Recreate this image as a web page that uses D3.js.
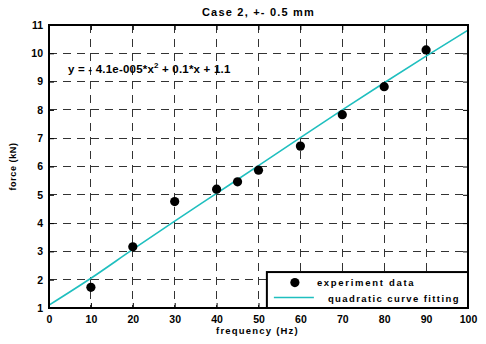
<!DOCTYPE html>
<meta charset="utf-8">
<style>
body { margin: 0; background: #fff; }
.chart text { font-family: "Liberation Sans", Arial, sans-serif; font-weight: bold; fill: #000; }
.chart .grid line { stroke: #333; stroke-width: 1; stroke-dasharray: 8,6; shape-rendering: crispEdges; }
.chart .frame { fill: none; stroke: #000; stroke-width: 2; shape-rendering: crispEdges; }
.chart .fit { fill: none; stroke: #1fbfbf; stroke-width: 1.6; }
</style>
<body>
<svg class="chart js-chart"></svg>

<script src="https://cdn.jsdelivr.net/npm/d3@7"></script>
<script>
"use strict";

var freq = [10, 20, 30, 40, 45, 50, 60, 70, 80, 90];
var force = [1.73, 3.16, 4.76, 5.2, 5.46, 5.87, 6.72, 7.83, 8.82, 10.12];

var fitX = [0, 10, 20, 30, 40, 50, 60, 70, 80, 90, 100];
var fitY = [1.1, 2.05, 3.07, 4.07, 5.05, 6.03, 7.02, 8.0, 8.96, 9.9, 10.82];

var xTicks = [0, 10, 20, 30, 40, 50, 60, 70, 80, 90, 100];
var yTicks = [1, 2, 3, 4, 5, 6, 7, 8, 9, 10, 11];

var margin = { top: 25, right: 18, bottom: 36, left: 49 },
    containerWidth = 486,
    containerHeight = 344,
    width = containerWidth - margin.left - margin.right,
    height = containerHeight - margin.top - margin.bottom;

var svg = d3.select(".js-chart")
    .attr("width", containerWidth)
    .attr("height", containerHeight);

var g = svg.append("g")
    .attr("transform", "translate(" + margin.left + "," + margin.top + ")");

var x = d3.scaleLinear().domain([0, 100]).range([0, width]);
var y = d3.scaleLinear().domain([1, 11]).range([height, 0]);

// dashed grid
var grid = g.append("g").attr("class", "grid");
grid.selectAll(".vx").data(xTicks.slice(1, -1)).enter().append("line")
    .attr("x1", x).attr("x2", x).attr("y1", 0).attr("y2", height);
grid.selectAll(".hy").data(yTicks.slice(1, -1)).enter().append("line")
    .attr("y1", y).attr("y2", y).attr("x1", 0).attr("x2", width);

// axes with inward ticks on all four sides
function styleAxis(sel) {
    sel.select(".domain").remove();
    sel.selectAll("line").attr("stroke", "#000").attr("stroke-width", 1);
    sel.selectAll("text").style("font-size", "10.5px");
}

g.append("g").attr("transform", "translate(0," + height + ")")
    .call(d3.axisBottom(x).tickValues(xTicks).tickSize(-5).tickPadding(8))
    .call(styleAxis);
g.append("g")
    .call(d3.axisLeft(y).tickValues(yTicks).tickSize(-5).tickPadding(6))
    .call(styleAxis);
g.append("g")
    .call(d3.axisTop(x).tickValues(xTicks).tickSize(-5).tickFormat(""))
    .call(styleAxis);
g.append("g").attr("transform", "translate(" + width + ",0)")
    .call(d3.axisRight(y).tickValues(yTicks).tickSize(-5).tickFormat(""))
    .call(styleAxis);

// fitted curve
var line = d3.line()
    .x(function(d, i) { return x(fitX[i]); })
    .y(function(d) { return y(d); })
    .curve(d3.curveMonotoneX);

g.append("path").attr("class", "fit").datum(fitY).attr("d", line);

// data points
g.selectAll(".pt").data(freq).enter().append("circle")
    .attr("cx", function(d) { return x(d); })
    .attr("cy", function(d, i) { return y(force[i]); })
    .attr("r", 4.6)
    .attr("fill", "#000");

g.append("rect").attr("class", "frame").attr("width", width).attr("height", height);

// equation
var eq = g.append("text").attr("x", 19).attr("y", 48).style("font-size", "11.5px")
    .style("letter-spacing", "0.2px");
eq.append("tspan").text("y = - 4.1e-005*x");
eq.append("tspan").attr("dy", -5).style("font-size", "8px").text("2");
eq.append("tspan").attr("dy", 5).text(" + 0.1*x + 1.1");

// legend
var lg = g.append("g").attr("transform", "translate(" + (x(52) ) + "," + y(2.27) + ")");
var lgW = width - x(52), lgH = height - y(2.27);
lg.append("rect").attr("width", lgW).attr("height", lgH)
    .attr("fill", "#fff").attr("stroke", "#000").attr("stroke-width", 2);
lg.append("circle").attr("cx", 28).attr("cy", 10.5).attr("r", 4.6).attr("fill", "#000");
lg.append("text").attr("x", 50).attr("y", 14).style("font-size", "9.5px")
    .style("letter-spacing", "1.7px").text("experiment data");
lg.append("line").attr("x1", 7).attr("x2", 47).attr("y1", 25.5).attr("y2", 25.5)
    .attr("stroke", "#1fbfbf").attr("stroke-width", 1.6);
lg.append("text").attr("x", 61).attr("y", 29.5).style("font-size", "9.5px")
    .style("letter-spacing", "1.4px").text("quadratic curve fitting");

// titles
svg.append("text").attr("x", margin.left + width / 2).attr("y", 16)
    .attr("text-anchor", "middle").style("font-size", "11px")
    .style("letter-spacing", "1.2px").text("Case 2, +- 0.5 mm");
svg.append("text").attr("x", margin.left + width / 2 - 1).attr("y", 334)
    .attr("text-anchor", "middle").style("font-size", "9.5px")
    .style("letter-spacing", "1.2px").text("frequency (Hz)");
svg.append("text").attr("transform", "translate(16," + (margin.top + height / 2) + ") rotate(-90)")
    .attr("text-anchor", "middle").style("font-size", "9px")
    .style("letter-spacing", "0.6px").text("force (kN)");
</script>
</body>
